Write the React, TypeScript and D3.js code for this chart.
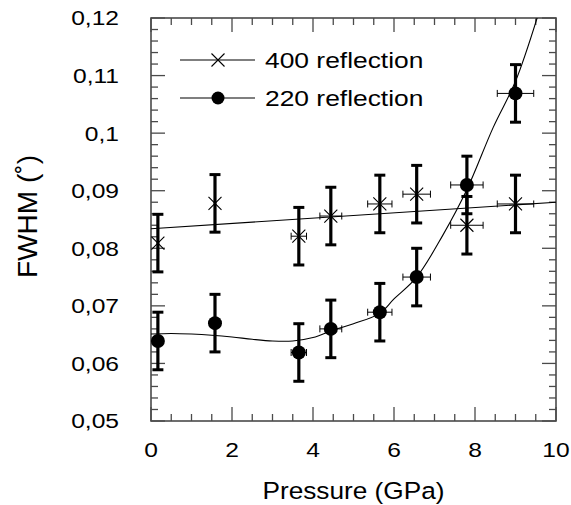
import React, { useRef, useEffect } from 'react';
import { select, scaleLinear, line, curveCatmullRom, range } from 'd3';

// pressures shared by both reflections (GPa)
const pressure = [0.17, 1.58, 3.65, 4.44, 5.65, 6.56, 7.8, 9.0];
const pressureErr = [0, 0, 0.19, 0.27, 0.3, 0.34, 0.4, 0.45];

// FWHM (deg)
const fwhm400 = [0.0809, 0.0878, 0.0821, 0.0856, 0.0877, 0.0894, 0.084, 0.0877];
const fwhm220 = [0.0639, 0.067, 0.0619, 0.066, 0.0689, 0.075, 0.091, 0.1069];
const fwhmErr = [0.005, 0.005, 0.005, 0.005, 0.005, 0.005, 0.005, 0.005];

// fitted curves
const fit400X = [0, 10];
const fit400Y = [0.0834, 0.088];
const fit220X = [0, 0.5, 1, 1.5, 2, 2.5, 3, 3.5, 4, 4.5, 5, 5.65, 6, 6.56, 7.2, 7.8, 8.45, 9.0, 9.6];
const fit220Y = [0.0651, 0.0652, 0.0651, 0.0649, 0.0646, 0.0642, 0.0639, 0.0639, 0.0645, 0.0658, 0.0669, 0.0687, 0.0712, 0.075, 0.0822, 0.0902, 0.101, 0.109, 0.1215];

const xTicks = [0, 2, 4, 6, 8, 10];
const yTicks = [0.05, 0.06, 0.07, 0.08, 0.09, 0.1, 0.11, 0.12];
const yTickLabels = ['0,05', '0,06', '0,07', '0,08', '0,09', '0,1', '0,11', '0,12'];
const seriesNames = ['400 reflection', '220 reflection'];

const W = 571, H = 505;
const left = 151, right = 556, top = 18, bottom = 421;
const FONT = 'Liberation Sans, Arial, Helvetica, sans-serif';

// text that is a bit wider than the font draws it (the original type is stretched)
function wideText(parent, x, y, str, size, sx, anchor = 'start', rotate = 0) {
  return parent.append('g')
    .attr('transform', `translate(${x},${y}) rotate(${rotate}) scale(${sx},1)`)
    .append('text')
    .attr('text-anchor', anchor)
    .attr('font-family', FONT)
    .attr('font-size', size)
    .attr('fill', '#000')
    .text(str);
}

function App() {
  const svgRef = useRef(null);

  useEffect(() => {
    const svg = select(svgRef.current);
    svg.selectAll('*').remove();

    const x = scaleLinear().domain([0, 10]).range([left, right]);
    const y = scaleLinear().domain([0.05, 0.12]).range([bottom, top]);

    svg.append('defs').append('clipPath').attr('id', 'plot-clip')
      .append('rect').attr('x', left).attr('y', top)
      .attr('width', right - left).attr('height', bottom - top);

    const axisColor = '#4a4a4a';

    // ticks on all four sides, pointing inward
    const xMinor = range(0, 10.001, 0.5);
    const yMinor = range(0.05, 0.12001, 0.002);
    const isMajorX = v => Math.abs(v / 2 - Math.round(v / 2)) < 1e-6;
    const isMajorY = v => Math.abs(v * 100 - Math.round(v * 100)) < 1e-6;
    const ticks = svg.append('g').attr('stroke', axisColor).attr('stroke-width', 1.3);
    xMinor.forEach(v => {
      const len = isMajorX(v) ? 14 : 7;
      ticks.append('line').attr('x1', x(v)).attr('x2', x(v)).attr('y1', bottom).attr('y2', bottom - len);
      ticks.append('line').attr('x1', x(v)).attr('x2', x(v)).attr('y1', top).attr('y2', top + len);
    });
    yMinor.forEach(v => {
      const len = isMajorY(v) ? 14 : 7;
      ticks.append('line').attr('x1', left).attr('x2', left + len).attr('y1', y(v)).attr('y2', y(v));
      ticks.append('line').attr('x1', right).attr('x2', right - len).attr('y1', y(v)).attr('y2', y(v));
    });

    svg.append('rect')
      .attr('x', left).attr('y', top)
      .attr('width', right - left).attr('height', bottom - top)
      .attr('fill', 'none').attr('stroke', axisColor).attr('stroke-width', 1.6);

    // tick labels
    xTicks.forEach(d => wideText(svg, x(d), 457, String(d), 20.5, 1.2, 'middle'));
    yTicks.forEach((d, i) => wideText(svg, 119, y(d) + 7.4, yTickLabels[i], 20.5, 1.2, 'end'));

    // axis titles
    wideText(svg, (left + right) / 2, 499, 'Pressure (GPa)', 24.5, 1.07, 'middle');
    wideText(svg, 37, (top + bottom) / 2 - 3, 'FWHM (˚)', 27, 1.04, 'middle', -90);

    // fit lines
    const plot = svg.append('g').attr('clip-path', 'url(#plot-clip)');
    const fitLine = line().x(d => x(d[0])).y(d => y(d[1]));
    plot.append('path')
      .attr('d', fitLine(fit400X.map((v, i) => [v, fit400Y[i]])))
      .attr('fill', 'none').attr('stroke', '#000').attr('stroke-width', 1.1);
    plot.append('path')
      .attr('d', fitLine.curve(curveCatmullRom)(fit220X.map((v, i) => [v, fit220Y[i]])))
      .attr('fill', 'none').attr('stroke', '#000').attr('stroke-width', 1.1);

    // error bars
    const drawErrors = (vals) => {
      const g = svg.append('g');
      pressure.forEach((p, i) => {
        const cx = x(p);
        const y1 = y(vals[i] + fwhmErr[i]);
        const y2 = y(vals[i] - fwhmErr[i]);
        g.append('line').attr('x1', cx).attr('x2', cx).attr('y1', y1).attr('y2', y2)
          .attr('stroke', '#000').attr('stroke-width', 3.2);
        [y1, y2].forEach(yy => {
          g.append('line').attr('x1', cx - 5.5).attr('x2', cx + 5.5).attr('y1', yy).attr('y2', yy)
            .attr('stroke', '#000').attr('stroke-width', 3);
        });
        if (pressureErr[i] > 0) {
          const cy = y(vals[i]);
          const xa = x(p - pressureErr[i]);
          const xb = x(p + pressureErr[i]);
          g.append('line').attr('x1', xa).attr('x2', xb).attr('y1', cy).attr('y2', cy)
            .attr('stroke', '#000').attr('stroke-width', 1);
          [xa, xb].forEach(xx => {
            g.append('line').attr('x1', xx).attr('x2', xx).attr('y1', cy - 3.5).attr('y2', cy + 3.5)
              .attr('stroke', '#000').attr('stroke-width', 1);
          });
        }
      });
    };
    drawErrors(fwhm400);
    drawErrors(fwhm220);

    const cross = (g, cx, cy, s) => {
      g.append('path')
        .attr('d', `M${cx - s},${cy - s}L${cx + s},${cy + s}M${cx - s},${cy + s}L${cx + s},${cy - s}`)
        .attr('stroke', '#000').attr('stroke-width', 1.1).attr('fill', 'none');
    };

    const crosses = svg.append('g');
    pressure.forEach((p, i) => cross(crosses, x(p), y(fwhm400[i]), 6.5));

    svg.append('g').selectAll('circle').data(pressure).join('circle')
      .attr('cx', d => x(d)).attr('cy', (d, i) => y(fwhm220[i]))
      .attr('r', 7).attr('fill', '#000');

    // legend
    const legend = svg.append('g');
    [60, 98].forEach((ly, i) => {
      legend.append('line').attr('x1', 180).attr('x2', 255).attr('y1', ly).attr('y2', ly)
        .attr('stroke', '#000').attr('stroke-width', 1.1);
      if (i === 0) cross(legend, 218, ly, 6.5);
      else legend.append('circle').attr('cx', 218).attr('cy', ly).attr('r', 6.5).attr('fill', '#000');
      wideText(legend, 265, ly + 8, seriesNames[i], 22, 1.2);
    });
  }, []);

  return (
    <svg ref={svgRef} width={W} height={H}
      style={{ position: 'absolute', left: 0, top: 0, background: '#fff' }} />
  );
}

export default App;
